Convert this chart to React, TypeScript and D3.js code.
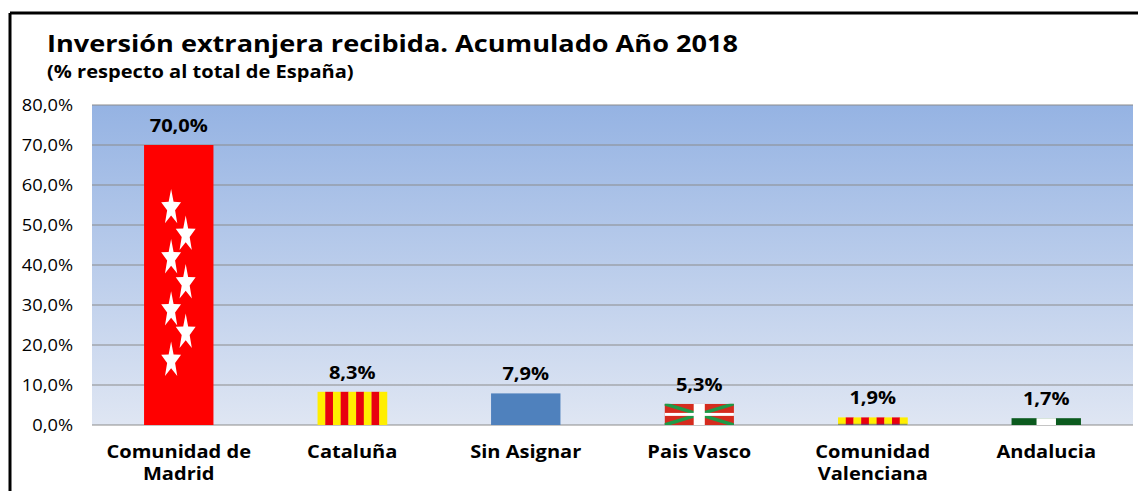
import React from "react";
import * as d3 from "d3";

const categories = ["Comunidad de\nMadrid", "Cataluña", "Sin Asignar", "Pais Vasco", "Comunidad\nValenciana", "Andalucia"];
const values = [70.0, 8.3, 7.9, 5.3, 1.9, 1.7];
const yTicks = [0, 10, 20, 30, 40, 50, 60, 70, 80];
const title = "Inversión extranjera recibida. Acumulado Año 2018";
const subtitle = "(% respecto al total de España)";

const W = 1146, H = 491;
const plot = { left: 92, right: 1133, top: 105, bottom: 425 };
const FONT = "'Open Sans', 'Noto Sans', sans-serif";
const SX = 1.18;
const fmt = (v: number) => v.toFixed(1).replace(".", ",") + "%";

function T(props: { x: number; y: number; size: number; bold?: boolean; anchor?: string; sx?: number; children: string }) {
  return (
    <g transform={`translate(${props.x},${props.y}) scale(${props.sx ?? SX},1)`}>
      <text x={0} y={0} textAnchor={props.anchor || "start"} fontFamily={FONT} fontWeight={props.bold ? 700 : 400} fontSize={props.size} fill="#000">{props.children}</text>
    </g>
  );
}

function starPath(cx: number, cy: number, r: number, sx: number, sy: number) {
  const pts: string[] = [];
  for (let i = 0; i < 10; i++) {
    const rr = i % 2 === 0 ? r : r * 0.4;
    const a = -Math.PI / 2 + (i * Math.PI) / 5;
    pts.push(`${cx + rr * Math.cos(a) * sx},${cy + rr * Math.sin(a) * sy}`);
  }
  return "M" + pts.join("L") + "Z";
}

export default function App() {
  const x = d3.scaleBand<number>().domain(d3.range(categories.length)).range([plot.left, plot.right]).paddingInner(0.6).paddingOuter(0.3);
  const y = d3.scaleLinear().domain([0, 80]).range([plot.bottom, plot.top]);
  const bw = x.bandwidth();

  const renderFill = (i: number, bx: number, by: number, bh: number) => {
    const key = i;
    if (i === 0) {
      const stars = [];
      const starFr = [0.775, 0.68, 0.596, 0.507, 0.41, 0.33, 0.23];
      for (let k = 0; k < 7; k++) {
        const sx = bx + bw * (k % 2 === 0 ? 0.39 : 0.6);
        stars.push(<path key={k} d={starPath(sx, y(starFr[k] * values[0]), 19, 0.55, 1.0)} fill="#ffffff" />);
      }
      return <g key={key}><rect x={bx} y={by} width={bw} height={bh} fill="#ff0000" />{stars}</g>;
    }
    if (i === 1) {
      const n = 9, sw = bw / n;
      return <g key={key}>{d3.range(n).map(k => <rect key={k} x={bx + k * sw} y={by} width={sw + 0.3} height={bh} fill={k % 2 === 0 ? "#ffee00" : "#e8000f"} />)}</g>;
    }
    if (i === 2) {
      return <rect key={key} x={bx} y={by} width={bw} height={bh} fill="#4f81bd" />;
    }
    if (i === 3) {
      const cw = bw * 0.08, ch = bh * 0.14;
      return <g key={key}>
        <clipPath id="pvclip"><rect x={bx} y={by} width={bw} height={bh} /></clipPath>
        <g clipPath="url(#pvclip)">
          <rect x={bx} y={by} width={bw} height={bh} fill="#d52b1e" />
          <line x1={bx} y1={by} x2={bx + bw} y2={by + bh} stroke="#1f9a48" strokeWidth={3.5} />
          <line x1={bx} y1={by + bh} x2={bx + bw} y2={by} stroke="#1f9a48" strokeWidth={3.5} />
          <rect x={bx + bw / 2 - cw} y={by} width={cw * 2} height={bh} fill="#ffffff" />
          <rect x={bx} y={by + bh / 2 - ch / 2} width={bw} height={ch} fill="#ffffff" />
        </g>
      </g>;
    }
    if (i === 4) {
      const n = 9, sw = bw / n;
      return <g key={key}>{d3.range(n).map(k => <rect key={k} x={bx + k * sw} y={by} width={sw + 0.3} height={bh} fill={k % 2 === 0 ? "#ffee00" : "#e8000f"} />)}
        <rect x={bx} y={by + bh - 1.2} width={bw} height={1.2} fill="#3355aa" opacity={0.6} /></g>;
    }
    return <g key={key}>
      <rect x={bx} y={by} width={bw} height={bh} fill="#0b5a1e" />
      <rect x={bx + bw * 0.36} y={by} width={bw * 0.28} height={bh} fill="#ffffff" />
    </g>;
  };

  return (
    <svg width={W - 8} height={H - 8} style={{ display: "block" }}>
      <defs>
        <linearGradient id="bg" x1="0" y1="0" x2="0" y2="1">
          <stop offset="0" stopColor="#95b3e3" />
          <stop offset="1" stopColor="#dfe6f3" />
        </linearGradient>
      </defs>
      <g transform="translate(-8,-8)">
        <rect x={0} y={0} width={W} height={H} fill="#ffffff" />
        <line x1={10} y1={13} x2={W} y2={13} stroke="#000" strokeWidth={3} />
        <line x1={10} y1={13} x2={10} y2={H} stroke="#000" strokeWidth={3} />
        <T x={47} y={52} size={24} sx={1.13} bold>{title}</T>
        <T x={47} y={78} size={17} bold>{subtitle}</T>
        <rect x={plot.left} y={plot.top} width={plot.right - plot.left} height={plot.bottom - plot.top} fill="url(#bg)" />
        {yTicks.map(t => (
          <g key={t}>
            <line x1={plot.left} x2={plot.right} y1={y(t)} y2={y(t)} stroke="#8c8c8c" strokeWidth={1.2} />
            <T x={73} y={y(t) + 5.5} size={15.5} anchor="end">{fmt(t)}</T>
          </g>
        ))}
        {values.map((v, i) => {
          const bx = x(i)!, by = y(v), bh = y(0) - y(v);
          return (
            <g key={i}>
              {renderFill(i, bx, by, bh)}
              <T x={bx + bw / 2} y={by - 13} size={17} bold anchor="middle">{fmt(v)}</T>
              {categories[i].split("\n").map((ln, j) => (
                <T key={j} x={bx + bw / 2} y={458 + j * 22} size={17} bold anchor="middle">{ln}</T>
              ))}
            </g>
          );
        })}
      </g>
    </svg>
  );
}
